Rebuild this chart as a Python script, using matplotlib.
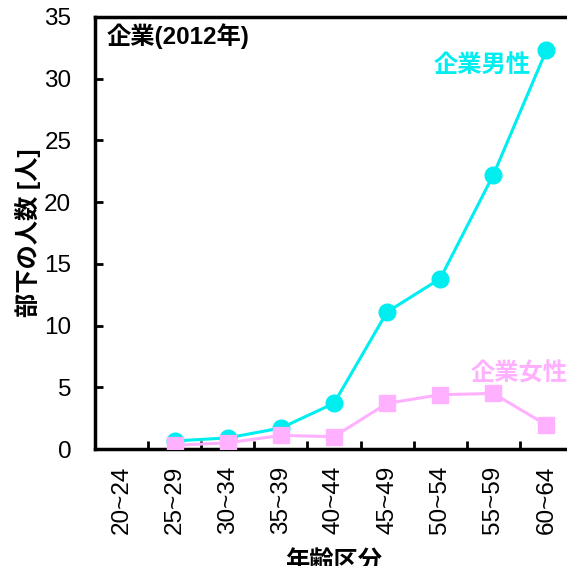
import matplotlib
matplotlib.use('Agg')
import matplotlib.pyplot as plt

plt.rcParams['font.family'] = ['Liberation Sans', 'Noto Sans CJK JP']

age_groups = ['20~24', '25~29', '30~34', '35~39', '40~44',
              '45~49', '50~54', '55~59', '60~64']
male = [None, 0.65, 0.9, 1.7, 3.7, 11.1, 13.8, 22.2, 32.3]
female = [None, 0.3, 0.5, 1.1, 1.0, 3.7, 4.4, 4.5, 1.95]

fig = plt.figure(figsize=(5.67, 5.66), dpi=100)
ax = fig.add_axes([0.1675, 0.2067, 0.843, 0.7633])

x = list(range(len(age_groups)))
mx = [i for i, v in zip(x, male) if v is not None]
my = [v for v in male if v is not None]
fx = [i for i, v in zip(x, female) if v is not None]
fy = [v for v in female if v is not None]

ax.plot(mx, my, color='#00EEF0', lw=2.2, marker='o', ms=12, zorder=3)
ax.plot(fx, fy, color='#FFB0FF', lw=2.2, marker='s', ms=12, zorder=4)

ax.set_xlim(-0.5, len(age_groups) - 0.5)
ax.set_ylim(0, 35)
ax.set_yticks(range(0, 36, 5))
ax.set_xticks(x)
ax.set_xticklabels(age_groups, rotation=90)
ax.set_xticks([i + 0.5 for i in x[:-1]], minor=True)
ax.tick_params(axis='x', which='major', length=0, labelsize=17.5, pad=12)
ax.tick_params(axis='x', which='minor', direction='in', length=6, width=2)
ax.tick_params(axis='y', direction='in', length=6, width=2, labelsize=17.5, pad=17)

for s in ['left', 'bottom', 'top']:
    ax.spines[s].set_linewidth(2.5)
ax.spines['right'].set_visible(False)

ax.set_ylabel('部下の人数 [人]', fontsize=17.5, fontweight='bold', labelpad=2)
ax.set_xlabel('年齢区分', fontsize=17.5, fontweight='bold', labelpad=12)

ax.text(0.025, 0.985, '企業(2012年)', transform=ax.transAxes, fontsize=17.5,
        fontweight='bold', va='top', ha='left')
ax.text(7.7, 31.1, '企業男性', color='#00EEF0', fontsize=17.5,
        fontweight='bold', ha='right', va='center')
ax.text(8.4, 6.1, '企業女性', color='#FFB0FF', fontsize=17.5,
        fontweight='bold', ha='right', va='center')

fig.savefig('out.png', dpi=100)
